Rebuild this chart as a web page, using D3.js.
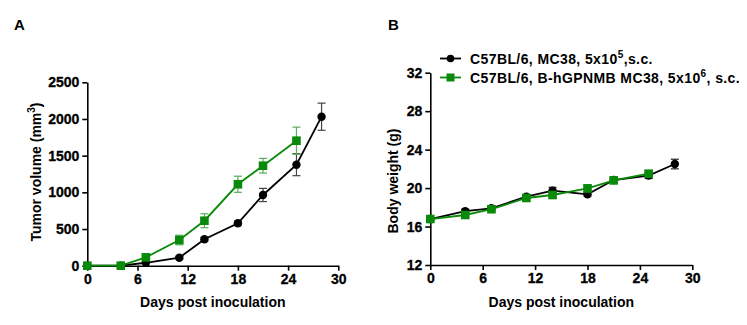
<!DOCTYPE html>
<html>
<head>
    <title>Tumor growth and body weight</title>
    <script src="https://d3js.org/d3.v7.min.js"></script>
    <style>
        body {
            margin: 0;
            background: #fff;
            font-family: "Liberation Sans", Arial, sans-serif;
        }
        svg text {
            font-weight: bold;
            fill: #000;
        }
    </style>
</head>
<body>
    <svg id="chart" width="747" height="325"></svg>

    <script>
        // Measurement days
        const daysMC38 = [0, 4, 7, 11, 14, 18, 21, 25, 28];
        const daysGPNMB = [0, 4, 7, 11, 14, 18, 21, 25];

        // Tumor volume (mm3), mean and SEM
        const tumorMC38 = [0, 0, 40, 109, 360, 578, 964, 1377, 2031];
        const tumorMC38Err = [0, 0, 10, 20, 25, 30, 90, 150, 185];
        const tumorGPNMB = [0, 0, 114, 350, 613, 1110, 1363, 1704];
        const tumorGPNMBErr = [0, 0, 30, 65, 95, 110, 100, 185];

        // Body weight (g), mean and SEM
        const weightMC38 = [16.78, 17.6, 17.9, 19.1, 19.73, 19.35, 20.84, 21.3, 22.5];
        const weightMC38Err = [0.15, 0.2, 0.2, 0.2, 0.35, 0.2, 0.3, 0.3, 0.5];
        const weightGPNMB = [16.78, 17.2, 17.8, 18.97, 19.28, 19.97, 20.8, 21.5];
        const weightGPNMBErr = [0.15, 0.3, 0.3, 0.25, 0.35, 0.35, 0.3, 0.3];

        const xTicks = [0, 6, 12, 18, 24, 30];
        const tumorTicks = [0, 500, 1000, 1500, 2000, 2500];
        const weightTicks = [12, 16, 20, 24, 28, 32];

        const legendLabels = [
            ["C57BL/6, MC38, 5x10", "5", ",s.c."],
            ["C57BL/6, B-hGPNMB MC38, 5x10", "6", ", s.c."]
        ];

        const black = "#000";
        const green = "#0a8a0a";
        const fontFamily = "'Liberation Sans', Arial, sans-serif";

        const svg = d3.select("#chart");

        function makeSeries(days, mean, err) {
            return days.map((d, i) => ({ x: d, y: mean[i], e: err[i] }));
        }

        function drawPanel(opts) {
            const x = d3.scaleLinear().domain([0, 30]).range(opts.xRange);
            const y = d3.scaleLinear().domain(opts.yDomain).range(opts.yRange);
            const g = svg.append("g");

            // axes
            const xAxis = g.append("g")
                .attr("transform", `translate(0,${opts.yRange[0]})`)
                .call(d3.axisBottom(x).tickValues(xTicks).tickFormat(d3.format("d"))
                    .tickSize(5).tickPadding(3).tickSizeOuter(0));
            const yAxis = g.append("g")
                .attr("transform", `translate(${opts.xRange[0]},0)`)
                .call(d3.axisLeft(y).tickValues(opts.yTicks).tickFormat(d3.format("d"))
                    .tickSize(5).tickPadding(3).tickSizeOuter(0));
            [xAxis, yAxis].forEach(a => {
                a.attr("font-family", fontFamily).attr("font-size", 14).attr("font-weight", "bold");
                a.select(".domain").attr("stroke", black).attr("stroke-width", 1.6);
                a.selectAll(".tick line").attr("stroke", black).attr("stroke-width", 1.6);
                a.selectAll(".tick text")
                    .attr("font-weight", "bold")
                    .attr("stroke", black)
                    .attr("stroke-width", 0.3)
                    .attr("fill", black);
            });

            // axis titles
            g.append("text")
                .attr("x", (opts.xRange[0] + opts.xRange[1]) / 2)
                .attr("y", 307)
                .attr("text-anchor", "middle")
                .attr("font-size", 14)
                .text("Days post inoculation");

            const yt = g.append("text")
                .attr("transform", `translate(${opts.yTitleX},${opts.yTitleY}) rotate(-90)`)
                .attr("text-anchor", "middle")
                .attr("font-size", 14)
                .text(opts.yTitle);
            if (opts.yTitleSup) {
                yt.append("tspan").text("(mm");
                yt.append("tspan").attr("font-size", 10).attr("dy", -6).text(opts.yTitleSup);
                yt.append("tspan").attr("dy", 6).text(")");
            }

            // panel letter
            svg.append("text")
                .attr("x", opts.letterX)
                .attr("y", 30)
                .attr("font-size", 15)
                .text(opts.letter);

            const line = d3.line().x(d => x(d.x)).y(d => y(d.y));

            opts.series.forEach(s => {
                const sg = g.append("g");
                // error bars
                const eb = sg.append("g")
                    .attr("stroke", s.errColor)
                    .attr("stroke-width", 1.2)
                    .selectAll("g")
                    .data(s.data.filter(d => d.e > 0))
                    .join("g");
                eb.append("line")
                    .attr("x1", d => x(d.x)).attr("x2", d => x(d.x))
                    .attr("y1", d => y(d.y + d.e)).attr("y2", d => y(d.y - d.e));
                eb.append("line")
                    .attr("x1", d => x(d.x) - 4).attr("x2", d => x(d.x) + 4)
                    .attr("y1", d => y(d.y + d.e)).attr("y2", d => y(d.y + d.e));
                eb.append("line")
                    .attr("x1", d => x(d.x) - 4).attr("x2", d => x(d.x) + 4)
                    .attr("y1", d => y(d.y - d.e)).attr("y2", d => y(d.y - d.e));

                sg.append("path")
                    .datum(s.data)
                    .attr("fill", "none")
                    .attr("stroke", s.color)
                    .attr("stroke-width", 1.8)
                    .attr("d", line);

                if (s.shape === "circle") {
                    sg.selectAll("circle")
                        .data(s.data)
                        .join("circle")
                        .attr("cx", d => x(d.x))
                        .attr("cy", d => y(d.y))
                        .attr("r", 4.2)
                        .attr("fill", s.color);
                } else {
                    sg.selectAll("rect")
                        .data(s.data)
                        .join("rect")
                        .attr("x", d => x(d.x) - 4.3)
                        .attr("y", d => y(d.y) - 4.3)
                        .attr("width", 8.6)
                        .attr("height", 8.6)
                        .attr("fill", s.color);
                }
            });
            return { x, y };
        }

        // Panel A: tumor volume
        drawPanel({
            letter: "A", letterX: 14,
            xRange: [87.3, 338.3],
            yDomain: [0, 2500], yRange: [265.7, 82.3], yTicks: tumorTicks,
            yTitle: "Tumor volume ", yTitleSup: "3", yTitleX: 41, yTitleY: 172,
            series: [
                { data: makeSeries(daysMC38, tumorMC38, tumorMC38Err), color: black, errColor: "#444", shape: "circle" },
                { data: makeSeries(daysGPNMB, tumorGPNMB, tumorGPNMBErr), color: green, errColor: "#5aac5a", shape: "square" }
            ]
        });

        // Panel B: body weight
        drawPanel({
            letter: "B", letterX: 388,
            xRange: [430.3, 692.3],
            yDomain: [12, 32], yRange: [265, 72.7], yTicks: weightTicks,
            yTitle: "Body weight (g)", yTitleX: 398, yTitleY: 181,
            series: [
                { data: makeSeries(daysMC38, weightMC38, weightMC38Err), color: black, errColor: "#222", shape: "circle" },
                { data: makeSeries(daysGPNMB, weightGPNMB, weightGPNMBErr), color: green, errColor: "#5aac5a", shape: "square" }
            ]
        });

        // Legend for panel B
        const legend = svg.append("g");
        const legendRows = [
            { y: 58.5, color: black, shape: "circle" },
            { y: 77.5, color: green, shape: "square" }
        ];
        legendRows.forEach((r, i) => {
            const row = legend.append("g");
            row.append("line")
                .attr("x1", 440).attr("x2", 461)
                .attr("y1", r.y).attr("y2", r.y)
                .attr("stroke", r.color).attr("stroke-width", 1.8);
            if (r.shape === "circle") {
                row.append("circle").attr("cx", 450.5).attr("cy", r.y).attr("r", 3.8).attr("fill", r.color);
            } else {
                row.append("rect").attr("x", 446.5).attr("y", r.y - 4).attr("width", 8).attr("height", 8).attr("fill", r.color);
            }
            const t = row.append("text")
                .attr("x", 470)
                .attr("y", r.y + 5)
                .attr("font-size", 14)
                .attr("letter-spacing", 0.4);
            const [pre, sup, post] = legendLabels[i];
            t.append("tspan").text(pre);
            t.append("tspan").attr("font-size", 10).attr("dy", -6).text(sup);
            t.append("tspan").attr("dy", 6).text(post);
        });
    </script>
</body>
</html>
